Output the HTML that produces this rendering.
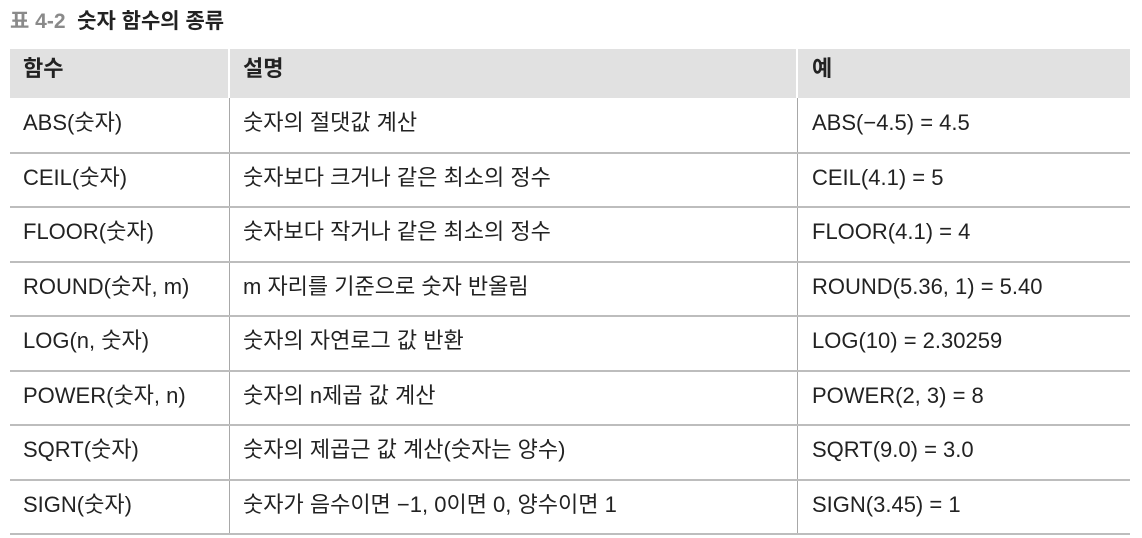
<!DOCTYPE html>
<html><head><meta charset="utf-8">
<style>
html,body{margin:0;padding:0;background:#fff;}
body{width:1142px;height:538px;position:relative;overflow:hidden;font-family:"Liberation Sans","Noto Sans CJK KR",sans-serif;color:#222;}
.abs{position:absolute;}
.title{left:10px;top:5px;font-size:21px;font-weight:bold;}
.title .num{color:#8a8a8a;}
.hdr{left:10px;top:49px;width:1120px;height:49px;background:#e1e1e1;}
.hline{position:absolute;left:10px;width:1120px;height:2px;background:#bdbdbd;}
.vline{position:absolute;width:1px;background:#a8a8a8;top:98px;height:436px;}
.hv{position:absolute;width:2px;background:#fff;top:49px;height:49px;}
.cell{position:absolute;font-size:22px;line-height:24px;white-space:nowrap;}
.h{font-weight:bold;font-size:22px;}
</style></head>
<body>
<div class="abs title"><span class="num">표 4-2</span>&nbsp; 숫자 함수의 종류</div>
<div class="abs hdr"></div>
<div class="hv" style="left:228px"></div>
<div class="hv" style="left:796px"></div>
<div class="cell h" style="left:23px;top:57px">함수</div>
<div class="cell h" style="left:243px;top:57px">설명</div>
<div class="cell h" style="left:812px;top:57px">예</div>
<div class="vline" style="left:229px"></div>
<div class="vline" style="left:797px"></div>
<script>
const funcs=["ABS(숫자)","CEIL(숫자)","FLOOR(숫자)","ROUND(숫자, m)","LOG(n, 숫자)","POWER(숫자, n)","SQRT(숫자)","SIGN(숫자)"];
const descs=["숫자의 절댓값 계산","숫자보다 크거나 같은 최소의 정수","숫자보다 작거나 같은 최소의 정수","m 자리를 기준으로 숫자 반올림","숫자의 자연로그 값 반환","숫자의 n제곱 값 계산","숫자의 제곱근 값 계산(숫자는 양수)","숫자가 음수이면 −1, 0이면 0, 양수이면 1"];
const examples=["ABS(−4.5) = 4.5","CEIL(4.1) = 5","FLOOR(4.1) = 4","ROUND(5.36, 1) = 5.40","LOG(10) = 2.30259","POWER(2, 3) = 8","SQRT(9.0) = 3.0","SIGN(3.45) = 1"];
const root=document.body;
const top0=98, rh=54.5;
for(let i=0;i<funcs.length;i++){
  const y=top0+i*rh;
  const cols=[[23,funcs[i],'function'],[243,descs[i],'description'],[812,examples[i],'example']];
  for(const [x,t,n] of cols){
    const d=document.createElement('div');
    d.className='cell';
    d.style.left=x+'px';
    d.style.top=(y+13)+'px';
    d.textContent=t;
    
    
    root.appendChild(d);
  }
  const l=document.createElement('div');
  l.className='hline';
  l.style.top=(y+rh-1)+'px';
  
  
  root.appendChild(l);
}
</script>
</body></html>
